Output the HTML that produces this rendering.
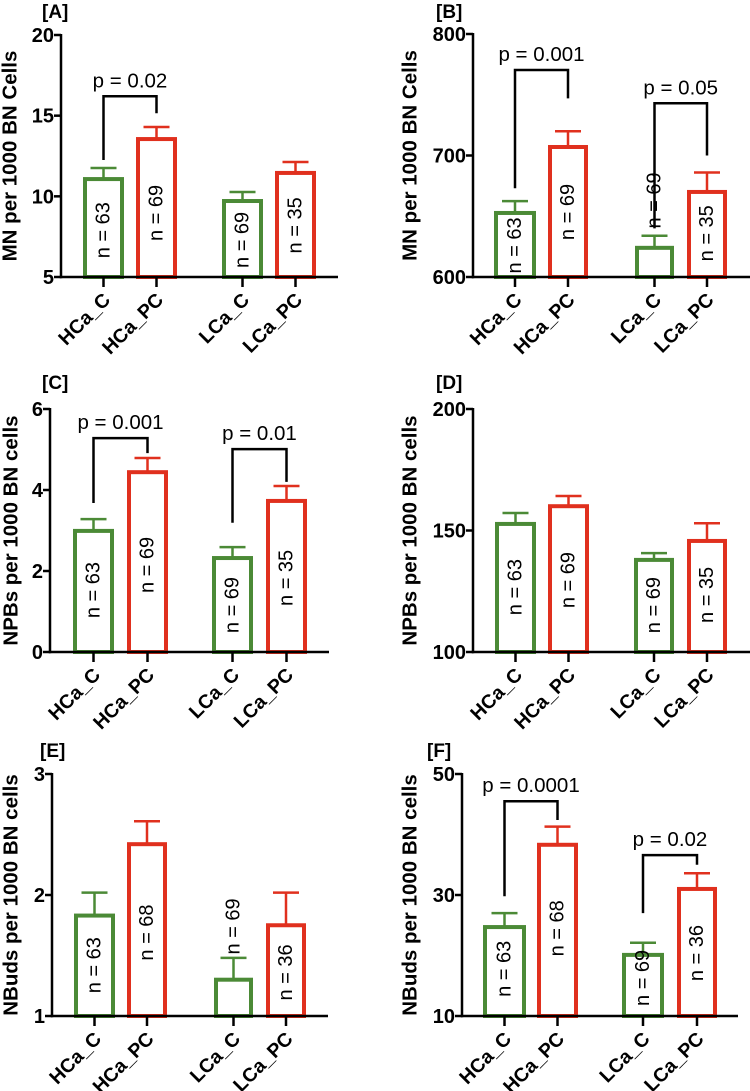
<!DOCTYPE html>
<html><head><meta charset="utf-8"><style>
html,body{margin:0;padding:0;background:#fff;}
svg{display:block;font-family:"Liberation Sans",Arial,sans-serif;}
</style></head><body>
<svg id="fig" width="750" height="1091" viewBox="0 0 750 1091"></svg>
<script>
const categories = ["HCa_C","HCa_PC","LCa_C","LCa_PC"];
const meansA = [11.07, 13.55, 9.71, 11.45];
const errA = [11.76, 14.3, 10.27, 12.13];
const nA = ["n = 63","n = 69","n = 69","n = 35"];
const nPosA = [7.9, 8.97, 7.3, 8.2];
const ticksA = [5, 10, 15, 20];
const meansB = [652.7, 707, 624, 670];
const errB = [662.5, 720, 634, 686];
const nB = ["n = 63","n = 69","n = 69","n = 35"];
const nPosB = [626, 653.5, 663, 636];
const ticksB = [600, 700, 800];
const meansC = [2.99, 4.44, 2.32, 3.73];
const errC = [3.28, 4.79, 2.59, 4.1];
const nC = ["n = 63","n = 69","n = 69","n = 35"];
const nPosC = [1.53, 2.15, 1.16, 1.83];
const ticksC = [0, 2, 4, 6];
const meansD = [152.7, 160, 137.9, 145.7];
const errD = [157.2, 164.2, 140.7, 153];
const nD = ["n = 63","n = 69","n = 69","n = 35"];
const nPosD = [126.7, 129.6, 119.3, 123.5];
const ticksD = [100, 150, 200];
const meansE = [1.83, 2.42, 1.30, 1.75];
const errE = [2.02, 2.61, 1.48, 2.02];
const nE = ["n = 63","n = 68","n = 69","n = 36"];
const nPosE = [1.42, 1.69, 1.74, 1.36];
const ticksE = [1, 2, 3];
const meansF = [24.7, 38.3, 20.1, 31.0];
const errF = [27.0, 41.3, 22.1, 33.6];
const nF = ["n = 63","n = 68","n = 69","n = 36"];
const nPosF = [17.8, 24.5, 16.3, 20.4];
const ticksF = [10, 30, 50];
// brackets: [leftBar, rightBar, leftLegEnd, rightLegEnd, top, label]
const bracketsA = [[0,1,12.25,15.15,16.2,"p = 0.02"]];
const bracketsB = [[0,1,673,747,770.4,"p = 0.001"],[2,3,640,700,743,"p = 0.05"]];
const bracketsC = [[0,1,3.68,4.91,5.28,"p = 0.001"],[2,3,3.19,4.2,5.01,"p = 0.01"]];
const bracketsD = [];
const bracketsE = [];
const bracketsF = [[0,1,29.8,42.4,45.5,"p = 0.0001"],[2,3,27.0,35.0,36.6,"p = 0.02"]];

const NS="http://www.w3.org/2000/svg";
const svg=document.getElementById('fig');
const GREEN="#4b8a36", RED="#e0301e";
function mk(tag, attrs, parent, text){
  const e=document.createElementNS(NS,tag);
  for(const k in attrs) e.setAttribute(k,attrs[k]);
  if(text!==undefined) e.textContent=text;
  parent.appendChild(e); return e;
}
const panels=[
 {id:"a",label:"[A]",lx:42,ly:18,title:"MN per 1000 BN Cells",tx:10,ax:61,axEnd:338,top:35,base:277,min:5,max:20,bars:[[83,124],[136,177],[222,263],[275,316]],means:meansA,err:errA,n:nA,nPos:nPosA,ticks:ticksA,br:bracketsA},
 {id:"b",label:"[B]",lx:436,ly:18,title:"MN per 1000 BN Cells",tx:410,ax:473,axEnd:750,top:34,base:277,min:600,max:800,bars:[[494,536],[548,588],[635,674],[687,727]],means:meansB,err:errB,n:nB,nPos:nPosB,ticks:ticksB,br:bracketsB},
 {id:"c",label:"[C]",lx:42,ly:389,title:"NPBs per 1000 BN cells",tx:11,ax:50,axEnd:329,top:409,base:652,min:0,max:6,bars:[[73,114],[127,168],[212,253],[266,307]],means:meansC,err:errC,n:nC,nPos:nPosC,ticks:ticksC,br:bracketsC},
 {id:"d",label:"[D]",lx:436,ly:389,title:"NPBs per 1000 BN cells",tx:410,ax:473,axEnd:750,top:409,base:652,min:100,max:200,bars:[[495,536],[548,589],[634,674],[687,727]],means:meansD,err:errD,n:nD,nPos:nPosD,ticks:ticksD,br:bracketsD},
 {id:"e",label:"[E]",lx:40,ly:757,title:"NBuds per 1000 BN cells",tx:11,ax:52,axEnd:328,top:774,base:1016,min:1,max:3,bars:[[74,115],[127,167],[214,253],[266,306]],means:meansE,err:errE,n:nE,nPos:nPosE,ticks:ticksE,br:bracketsE},
 {id:"f",label:"[F]",lx:427,ly:757,title:"NBuds per 1000 BN cells",tx:410,ax:462,axEnd:738,top:774,base:1016,min:10,max:50,bars:[[483,526],[537,578],[622,664],[677,717]],means:meansF,err:errF,n:nF,nPos:nPosF,ticks:ticksF,br:bracketsF}
];
panels.forEach(P=>{
  const g=mk('g',{},svg);
  
  
  const y=v=>P.base-(v-P.min)/(P.max-P.min)*(P.base-P.top);
  const cx=i=>(P.bars[i][0]+P.bars[i][1])/2;
  const pl=mk('text',{x:P.lx,y:P.ly,'font-size':19,'font-weight':'bold'},g,P.label);
  
  
  const midY=(P.top+P.base)/2;
  const tt=mk('text',{x:P.tx,y:midY,'font-size':20.5,'font-weight':'bold','text-anchor':'middle','dominant-baseline':'central',transform:`rotate(-90 ${P.tx} ${midY})`},g,P.title);
  
  
  P.means.forEach((m,i)=>{
    const col=i%2===0?GREEN:RED;
    const [x0,x1]=P.bars[i];
    const top=y(m);
    const eb=mk('line',{x1:cx(i),x2:cx(i),y1:top,y2:y(P.err[i]),stroke:col,'stroke-width':2.5},g);
    
    
    const cap=mk('line',{x1:cx(i)-13,x2:cx(i)+13,y1:y(P.err[i]),y2:y(P.err[i]),stroke:col,'stroke-width':2.5},g);
    
    
    const r=mk('rect',{x:x0+2,y:top,width:x1-x0-4,height:P.base-top,fill:'#fff',stroke:col,'stroke-width':4},g);
    
    
    const ny=y(P.nPos[i]);
    const nt=mk('text',{x:cx(i),y:ny,'font-size':20,'text-anchor':'middle','dominant-baseline':'central',transform:`rotate(-90 ${cx(i)} ${ny})`},g,P.n[i]);
    
    
    const tk=mk('line',{x1:cx(i),x2:cx(i),y1:P.base,y2:P.base+10,stroke:'#000','stroke-width':2.5},g);
    
    
    const lx=cx(i)+8, ly=P.base+24;
    const cl=mk('text',{x:lx,y:ly,'font-size':19.5,'font-weight':'bold','text-anchor':'end',transform:`rotate(-45 ${lx} ${ly})`},g,categories[i]);
    
    
  });
  const ya=mk('line',{x1:P.ax,x2:P.ax,y1:P.top-1,y2:P.base+1.25,stroke:'#000','stroke-width':2.5},g);
  
  
  const xa=mk('line',{x1:P.ax-1.25,x2:P.axEnd,y1:P.base,y2:P.base,stroke:'#000','stroke-width':2.5},g);
  
  
  P.ticks.forEach(t=>{
    const ty=y(t);
    const tl=mk('line',{x1:P.ax-7,x2:P.ax,y1:ty,y2:ty,stroke:'#000','stroke-width':2.5},g);
    
    
    const tx=mk('text',{x:P.ax-7,y:ty+7,'font-size':20,'font-weight':'bold','text-anchor':'end'},g,String(t));
    
    
  });
  P.br.forEach((b,k)=>{
    const xl=cx(b[0]), xr=cx(b[1]), yt=y(b[4]);
    const pth=mk('path',{d:`M${xl},${y(b[2])} V${yt} H${xr} V${y(b[3])}`,fill:'none',stroke:'#000','stroke-width':2.5},g);
    
    
    const pt=mk('text',{x:(xl+xr)/2,y:yt-9,'font-size':20.5,'text-anchor':'middle'},g,b[5]);
    
    
  });
});
</script>
</body></html>
